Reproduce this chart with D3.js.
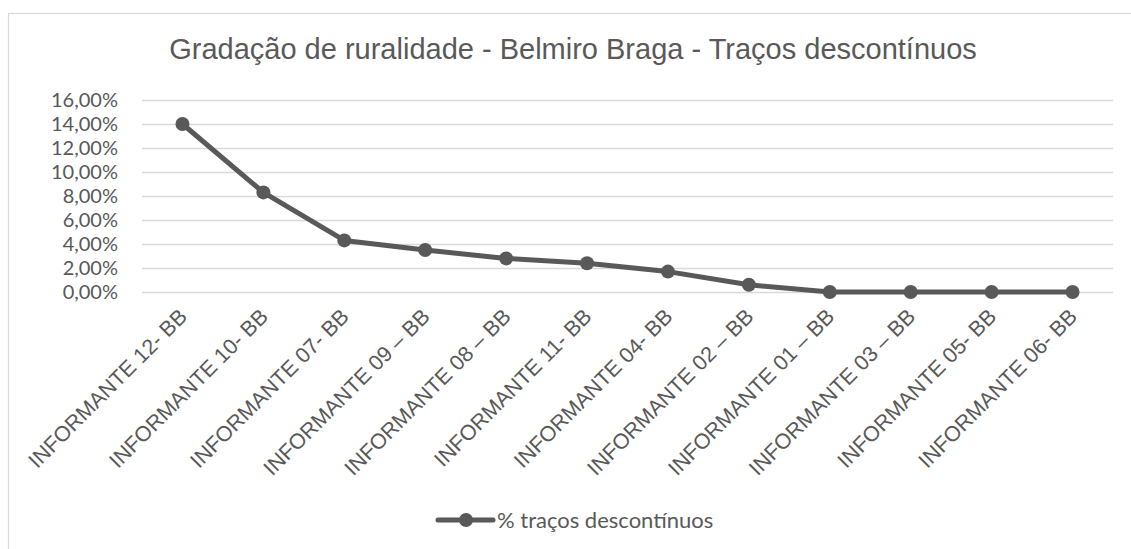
<!DOCTYPE html>
<html>
<head>
<meta charset="utf-8">
<script src="https://cdn.jsdelivr.net/npm/d3@7"></script>
<style>
  html, body { margin: 0; padding: 0; background: #ffffff; }
  svg { display: block; }
</style>
</head>
<body>
<svg id="chart" width="1131" height="549"></svg>
<script>
// Informants, ordered from most to least rural trait usage
const categories = [
  "INFORMANTE 12- BB", "INFORMANTE 10- BB", "INFORMANTE 07- BB",
  "INFORMANTE 09 – BB", "INFORMANTE 08 – BB", "INFORMANTE 11- BB",
  "INFORMANTE 04- BB", "INFORMANTE 02 – BB", "INFORMANTE 01 – BB",
  "INFORMANTE 03 – BB", "INFORMANTE 05- BB", "INFORMANTE 06- BB"
];
// Share of discontinuous traits per informant
const values = [0.140, 0.083, 0.043, 0.035, 0.028, 0.024, 0.017, 0.006, 0, 0, 0, 0];
const yTicks = [0, 0.02, 0.04, 0.06, 0.08, 0.10, 0.12, 0.14, 0.16];
const seriesName = "% traços descontínuos";
const title = "Gradação de ruralidade - Belmiro Braga - Traços descontínuos";

const grey = "#595959";
const gridGrey = "#d9d9d9";

const svg = d3.select("#chart");

// Chart frame
svg.append("rect")
  .attr("x", 8.5).attr("y", 13.5)
  .attr("width", 1140).attr("height", 560)
  .attr("fill", "#ffffff")
  .attr("stroke", gridGrey).attr("stroke-width", 1.2);

const x = d3.scaleBand().domain(categories).range([142, 1113]);
const y = d3.scaleLinear().domain([0, 0.16]).range([292, 100]);
const cx = c => x(c) + x.bandwidth() / 2;

const ptBR = d3.formatLocale({ decimal: ",", thousands: ".", grouping: [3], currency: ["R$", ""] });
const pct = ptBR.format(".2%");

// Title
svg.append("text")
  .attr("x", 573).attr("y", 59)
  .attr("text-anchor", "middle")
  .attr("font-family", "'Liberation Sans', Arial, sans-serif")
  .attr("font-size", 29)
  .attr("fill", grey)
  .text(title);

// Horizontal gridlines + y axis labels
const yAxis = d3.axisLeft(y).tickValues(yTicks).tickFormat(pct)
  .tickSize(-(1113 - 142)).tickPadding(24);
const gy = svg.append("g").attr("transform", "translate(142,0)").call(yAxis);
gy.select(".domain").remove();
gy.selectAll(".tick line").attr("stroke", gridGrey).attr("stroke-width", 1.3);
gy.selectAll(".tick text")
  .attr("font-family", "Lato, 'Open Sans', sans-serif")
  .attr("font-size", 20)
  .attr("fill", grey);

// Category labels, rotated
const xAxis = d3.axisBottom(x).tickSize(0).tickPadding(0);
const gx = svg.append("g").attr("transform", "translate(0,312)").call(xAxis);
gx.select(".domain").remove();
gx.selectAll(".tick text")
  .attr("font-family", "'Liberation Sans', Arial, sans-serif")
  .attr("font-size", 21.5)
  .attr("fill", grey)
  .attr("text-anchor", "end")
  .attr("dy", "0.72em")
  .attr("transform", "translate(-5,-5) rotate(-45)")
  .attr("x", 0).attr("y", 0);

// Series line and markers
const line = d3.line().x((d, i) => cx(categories[i])).y(d => y(d));
svg.append("path")
  .datum(values)
  .attr("d", line)
  .attr("fill", "none")
  .attr("stroke", grey)
  .attr("stroke-width", 5)
  .attr("stroke-linejoin", "round")
  .attr("stroke-linecap", "round");

svg.append("g").selectAll("circle")
  .data(values)
  .join("circle")
  .attr("cx", (d, i) => cx(categories[i]))
  .attr("cy", d => y(d))
  .attr("r", 7)
  .attr("fill", grey);

// Legend
const lg = svg.append("g").attr("transform", "translate(438,520)");
lg.append("line")
  .attr("x1", 0).attr("x2", 55).attr("y1", 0).attr("y2", 0)
  .attr("stroke", grey).attr("stroke-width", 5).attr("stroke-linecap", "round");
lg.append("circle").attr("cx", 28).attr("cy", 0).attr("r", 7).attr("fill", grey);
lg.append("text")
  .attr("x", 59).attr("y", 0).attr("dy", "0.35em")
  .attr("font-family", "Lato, 'Open Sans', sans-serif")
  .attr("font-size", 22)
  .attr("fill", grey)
  .text(seriesName);
</script>
</body>
</html>
